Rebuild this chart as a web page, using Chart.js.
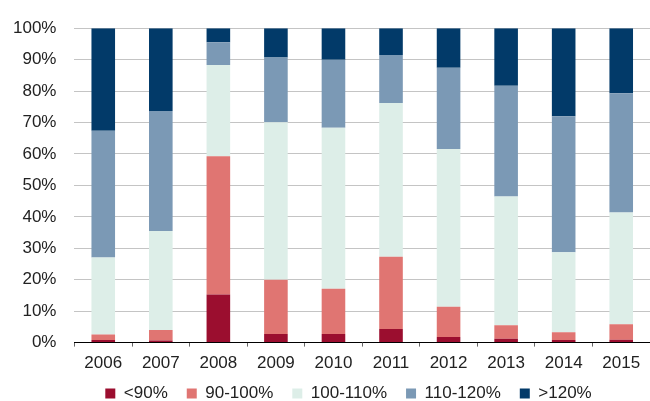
<!DOCTYPE html>
<html>
<head>
<meta charset="utf-8">
<script src="https://cdn.jsdelivr.net/npm/chart.js@4/dist/chart.umd.min.js"></script>
<style>
  html, body { margin: 0; padding: 0; background: #fff; }
</style>
</head>
<body>
<canvas id="c" width="650" height="401"></canvas>
<script>
// years on the x axis
const years = ["2006", "2007", "2008", "2009", "2010", "2011", "2012", "2013", "2014", "2015"];

// share of each band (percent)
const below90   = [0.8, 0.7, 15.3, 2.7, 2.7, 4.3, 1.8, 1.2, 0.8, 0.9];
const from90    = [1.8, 3.3, 44.0, 17.3, 14.4, 23.0, 9.6, 4.3, 2.5, 4.9];
const from100   = [24.5, 31.5, 29.0, 50.1, 51.2, 48.9, 50.2, 41.0, 25.4, 35.6];
const from110   = [40.3, 38.2, 7.2, 20.6, 21.7, 15.3, 25.8, 35.2, 43.3, 37.9];
const above120  = [32.6, 26.3, 4.5, 9.3, 10.0, 8.5, 12.6, 18.3, 28.0, 20.7];

const seriesNames = ["<90%", "90-100%", "100-110%", "110-120%", ">120%"];
const colours = ["#9b0e2f", "#e07572", "#ddeee8", "#7b99b5", "#023a69"];

const font = { family: "'Liberation Sans', Arial, sans-serif", size: 17 };

// legend padding is shared between rows and items, so pull the row up
// and a bit to the right to sit where the original one does
const legendNudge = {
  id: "legendNudge",
  afterLayout(chart) {
    const l = chart.legend;
    l.top -= 15;
    l.bottom -= 15;
    l.left += 26;
    l.right += 26;
  }
};

const ctx = document.getElementById("c");
new Chart(ctx, {
  type: "bar",
  data: {
    labels: years,
    datasets: [below90, from90, from100, from110, above120].map((d, i) => ({
      label: seriesNames[i],
      data: d,
      backgroundColor: colours[i],
      borderWidth: 0,
      categoryPercentage: 1,
      barPercentage: 0.41
    }))
  },
  options: {
    responsive: false,
    animation: false,
    layout: { padding: { top: 16, right: 0, left: -5, bottom: -26 } },
    plugins: {
      tooltip: { enabled: false },
      legend: {
        position: "bottom",
        labels: {
          font: font,
          color: "#222",
          boxWidth: 10,
          boxHeight: 10,
          padding: 19
        }
      }
    },
    scales: {
      x: {
        stacked: true,
        grid: { drawOnChartArea: false, drawTicks: true, tickLength: 4, offset: true, color: "#666" },
        border: { display: true, color: "#000", width: 1 },
        ticks: { font: font, color: "#222", padding: 7 }
      },
      y: {
        stacked: true,
        min: 0,
        max: 100,
        ticks: {
          stepSize: 10,
          font: font,
          color: "#222",
          padding: 18,
          callback: v => v + "%"
        },
        grid: { drawTicks: false, color: "#c4c4c4" },
        border: { display: false }
      }
    }
  },
  plugins: [legendNudge]
});
</script>
</body>
</html>
